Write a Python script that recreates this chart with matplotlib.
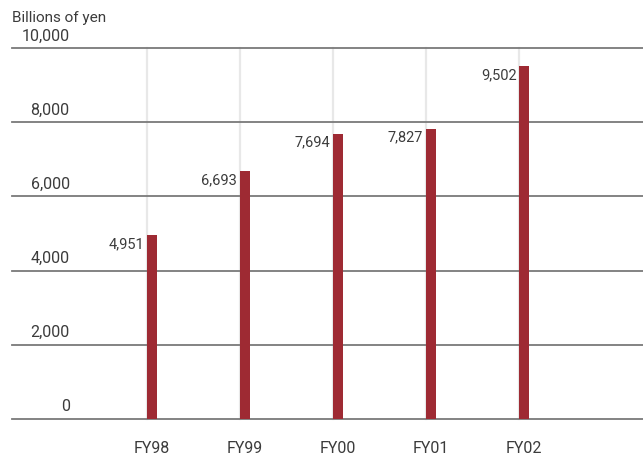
import matplotlib.pyplot as plt

years = ['FY98', 'FY99', 'FY00', 'FY01', 'FY02']
sales = [4951, 6693, 7694, 7827, 9502]
y_ticks = [0, 2000, 4000, 6000, 8000, 10000]

bar_color = '#9e2a33'
text_color = '#3c3c3c'
plt.rcParams['font.family'] = ['Roboto', 'DejaVu Sans']

fig = plt.figure(figsize=(6.43, 4.56), dpi=100)
ax = fig.add_axes([12 / 643, 36 / 456, 631 / 643, 371 / 456])

xs = list(range(len(years)))
bar_w = 0.108

# light vertical guides at each bar position
for x in xs:
    ax.axvline(x, color='#e8e8e8', lw=1.6, zorder=1, clip_on=False)

for y in y_ticks:
    ax.axhline(y, color='#7a7a7a', lw=1.3, zorder=2, clip_on=False)
    ax.text(-0.83, y + 150, f'{y:,}', ha='right', va='bottom',
            fontsize=11.5, color=text_color)

ax.bar(xs, sales, width=bar_w, align='edge', color=bar_color, zorder=3)

for x, v in zip(xs, sales):
    ax.text(x - 0.03, v - 220, f'{v:,}', ha='right', va='center',
            fontsize=10.5, color=text_color)

for x, name in zip(xs, years):
    ax.text(x + bar_w / 2, -780, name, ha='center', va='center',
            fontsize=11.5, color=text_color)

fig.text(12 / 643, 1 - 18 / 456, 'Billions of yen', ha='left', va='center',
         fontsize=11, color=text_color)

ax.set_xlim(-1.45, 5.33)
ax.set_ylim(0, 10000)
ax.axis('off')

fig.savefig('out.png', dpi=100)
